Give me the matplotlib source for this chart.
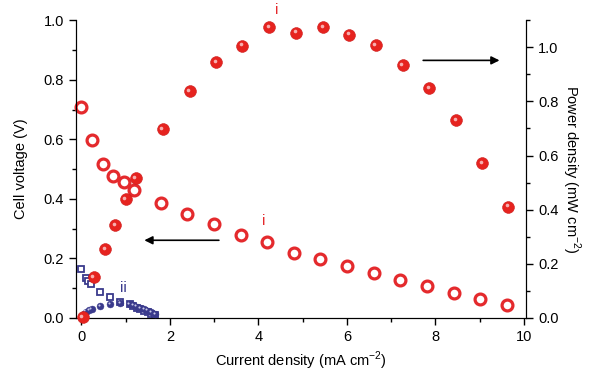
import matplotlib
matplotlib.use("Agg")
import matplotlib.pyplot as plt
import matplotlib.transforms as mtransforms
from matplotlib.ticker import MultipleLocator

plt.rcParams['font.family'] = ['Liberation Sans', 'DejaVu Sans']
plt.rcParams['mathtext.fontset'] = 'custom'
plt.rcParams['mathtext.rm'] = 'Liberation Sans'

# sample i : cell voltage (open circles) and power density (spheres)
i_volt_x = [0, 0.24, 0.49, 0.72, 0.96, 1.19, 1.79, 2.39, 3.00, 3.60,
            4.20, 4.80, 5.40, 6.00, 6.61, 7.21, 7.81, 8.41, 9.01, 9.61]
i_volt = [0.708, 0.597, 0.517, 0.478, 0.458, 0.431, 0.387, 0.349, 0.316, 0.280,
          0.255, 0.219, 0.197, 0.174, 0.151, 0.129, 0.107, 0.085, 0.064, 0.043]
i_pow_x = [0.03, 0.28, 0.53, 0.77, 1.00, 1.23, 1.84, 2.45, 3.05, 3.64,
           4.24, 4.85, 5.46, 6.05, 6.65, 7.26, 7.86, 8.46, 9.06, 9.65]
i_pow = [0.004, 0.150, 0.255, 0.344, 0.440, 0.517, 0.697, 0.838, 0.945, 1.006,
         1.073, 1.054, 1.073, 1.047, 1.007, 0.934, 0.849, 0.730, 0.573, 0.411]

# sample ii
ii_x = [0.0, 0.11, 0.16, 0.22, 0.43, 0.65, 0.87, 1.09, 1.17, 1.25,
        1.32, 1.41, 1.50, 1.58, 1.66]
ii_volt = [0.163, 0.133, 0.124, 0.115, 0.088, 0.069, 0.055, 0.047, 0.040, 0.034,
           0.029, 0.024, 0.019, 0.014, 0.010]
ii_pow_x = [0.05, 0.10, 0.17, 0.23, 0.43, 0.65, 0.88, 1.09, 1.17, 1.25,
            1.33, 1.42, 1.50, 1.58, 1.66]
ii_pow = [0.015, 0.023, 0.028, 0.032, 0.044, 0.052, 0.054, 0.052, 0.047, 0.042,
          0.037, 0.032, 0.027, 0.021, 0.015]

red = '#e42a2d'
navy = '#3a3a8c'

fig = plt.figure(figsize=(6.0, 3.77), dpi=100)
ax = fig.add_axes([0.126, 0.1565, 0.751, 0.790])
ax2 = ax.twinx()

ax.set_xlim(-0.13, 10.05)
ax.set_ylim(0, 1.0)
ax2.set_ylim(0, 1.1)

# voltage on left axis
ax.plot(ii_x, ii_volt, ls='none', marker='s', ms=4.5, mfc='white', mec=navy,
        mew=1.3, clip_on=False, zorder=3)
ax.plot(i_volt_x, i_volt, ls='none', marker='o', ms=7.8, mfc='white', mec=red,
        mew=2.3, clip_on=False, zorder=4)

# power on right axis, drawn as shaded spheres
hl = mtransforms.offset_copy(ax2.transData, fig=fig, x=-1.3, y=1.3, units='dots')
ax2.plot(ii_pow_x, ii_pow, ls='none', marker='o', ms=5, mfc=navy, mec=navy,
         mew=0.3, clip_on=False, zorder=3)
ax2.plot(ii_pow_x, ii_pow, ls='none', marker='o', ms=1.5, mfc='#c8c8e8', mec='none',
         transform=hl, clip_on=False, zorder=3)
ax2.plot(i_pow_x, i_pow, ls='none', marker='o', ms=8.5, mfc='#e6231f', mec='#cc1c1c',
         mew=0.4, clip_on=False, zorder=4)
ax2.plot(i_pow_x, i_pow, ls='none', marker='o', ms=2.6, mfc='#f7b0b0', mec='none',
         transform=hl, clip_on=False, zorder=4)

# axes styling
for a in (ax, ax2):
    a.spines['top'].set_visible(False)
    a.tick_params(which='both', direction='out', labelsize=10.5, width=1)
    a.tick_params(which='major', length=5)
    a.tick_params(which='minor', length=3)
ax.spines['left'].set_bounds(0, 1.0)
ax.xaxis.set_major_locator(MultipleLocator(2))
ax.xaxis.set_minor_locator(MultipleLocator(1))
ax.yaxis.set_major_locator(MultipleLocator(0.2))
ax.yaxis.set_minor_locator(MultipleLocator(0.1))
ax2.yaxis.set_major_locator(MultipleLocator(0.2))
ax2.yaxis.set_minor_locator(MultipleLocator(0.1))
ax2.set_yticks([0.0, 0.2, 0.4, 0.6, 0.8, 1.0])
ax.yaxis.set_major_formatter(plt.FormatStrFormatter('%.1f'))
ax2.yaxis.set_major_formatter(plt.FormatStrFormatter('%.1f'))

ax.set_xlabel('Current density (mA cm$^{-2}$)', fontsize=10.5, labelpad=4)
ax.set_ylabel('Cell voltage (V)', fontsize=10.5, labelpad=11)
ax2.set_ylabel('Power density (mW cm$^{-2}$)', fontsize=10.5, rotation=270, labelpad=17)

# annotations
ax.text(4.42, 1.035, 'i', color=red, fontsize=11, ha='center', va='center', clip_on=False)
ax.text(4.11, 0.327, 'i', color=red, fontsize=11, ha='center', va='center')
ax.text(0.95, 0.10, 'ii', color=navy, fontsize=11, ha='center', va='center')
ax.annotate('', xy=(1.36, 0.261), xytext=(3.17, 0.261),
            arrowprops=dict(arrowstyle='-|>', color='black', lw=1.2, mutation_scale=12))
ax.annotate('', xy=(9.51, 0.865), xytext=(7.66, 0.865),
            arrowprops=dict(arrowstyle='-|>', color='black', lw=1.2, mutation_scale=12))

fig.savefig('out.png', dpi=100)
